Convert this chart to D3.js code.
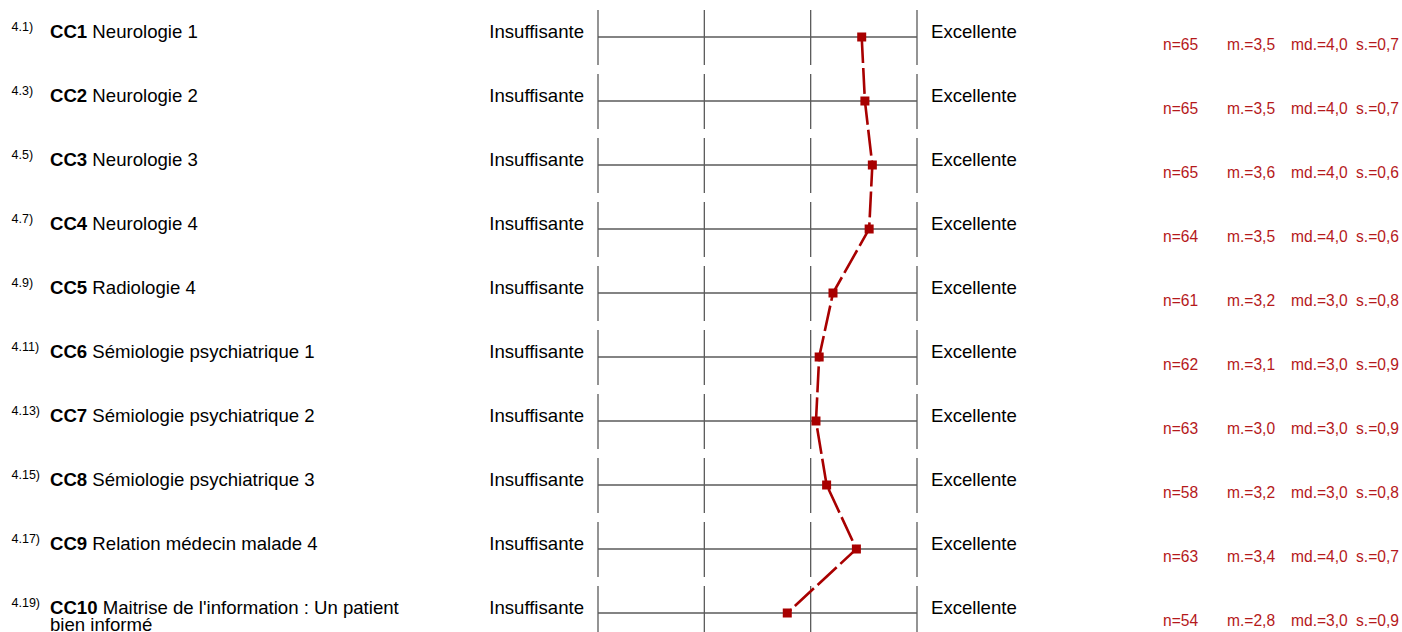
<!DOCTYPE html>
<html>
<head>
<meta charset="utf-8">
<script src="https://cdn.jsdelivr.net/npm/d3@7"></script>
<style>
  html, body { margin: 0; padding: 0; background: #fff; }
  svg { display: block; }
  text { font-family: "Liberation Sans", Arial, sans-serif; }
</style>
</head>
<body>
<svg id="chart" width="1402" height="632"></svg>
<script>
const nums = ["4.1)", "4.3)", "4.5)", "4.7)", "4.9)", "4.11)", "4.13)", "4.15)", "4.17)", "4.19)"];
const codes = ["CC1", "CC2", "CC3", "CC4", "CC5", "CC6", "CC7", "CC8", "CC9", "CC10"];
const titles = [
  ["Neurologie 1"],
  ["Neurologie 2"],
  ["Neurologie 3"],
  ["Neurologie 4"],
  ["Radiologie 4"],
  ["Sémiologie psychiatrique 1"],
  ["Sémiologie psychiatrique 2"],
  ["Sémiologie psychiatrique 3"],
  ["Relation médecin malade 4"],
  ["Maitrise de l'information : Un patient", "bien informé"]
];
const means = [3.48, 3.51, 3.58, 3.55, 3.21, 3.08, 3.05, 3.15, 3.43, 2.78];
const nValues = [65, 65, 65, 64, 61, 62, 63, 58, 63, 54];
const meanLabels = ["3,5", "3,5", "3,6", "3,5", "3,2", "3,1", "3,0", "3,2", "3,4", "2,8"];
const medianLabels = ["4,0", "4,0", "4,0", "4,0", "3,0", "3,0", "3,0", "3,0", "4,0", "3,0"];
const sdLabels = ["0,7", "0,7", "0,6", "0,6", "0,8", "0,9", "0,9", "0,8", "0,7", "0,9"];
const scaleTicks = [1, 2, 3, 4];
const leftPole = "Insuffisante";
const rightPole = "Excellente";

const svg = d3.select("#chart");
const x = d3.scaleLinear().domain([1, 4]).range([598, 917]);
const y = d3.scalePoint().domain(codes).range([37, 613]);

const rows = codes.map((c, i) => ({
  code: c, num: nums[i], title: titles[i], mean: means[i], n: nValues[i],
  ml: meanLabels[i], md: medianLabels[i], sd: sdLabels[i]
}));

const gray = "#5a5a5a";
const red = "#a80000";
const textRed = "#b5191b";
const fs = 18.6;

const g = svg.append("g");
const row = g.selectAll("g.row").data(rows).join("g").attr("class", "row")
  .attr("transform", d => `translate(0,${y(d.code)})`);

// horizontal line
row.append("line")
  .attr("x1", x(1)).attr("x2", x(4)).attr("y1", 0).attr("y2", 0)
  .attr("stroke", gray).attr("stroke-width", 1.3);

// vertical tick segments
row.selectAll("line.tick").data(scaleTicks).join("line").attr("class", "tick")
  .attr("x1", v => x(v)).attr("x2", v => x(v))
  .attr("y1", -27).attr("y2", 28)
  .attr("stroke", gray).attr("stroke-width", 1.3);

// number superscript
row.append("text")
  .attr("x", 11.5).attr("y", -6)
  .attr("font-size", 12.5).attr("fill", "#000")
  .text(d => d.num);

// label
const lbl = row.append("text")
  .attr("x", 50).attr("y", 0.5)
  .attr("font-size", fs).attr("fill", "#000");
lbl.append("tspan").attr("font-weight", "bold").text(d => d.code);
lbl.append("tspan").text(d => " " + d.title[0]);
row.filter(d => d.title.length > 1).append("text")
  .attr("x", 50).attr("y", 18)
  .attr("font-size", fs).attr("fill", "#000")
  .text(d => d.title[1]);

// poles
row.append("text")
  .attr("x", 584).attr("y", 0.5).attr("text-anchor", "end")
  .attr("font-size", fs).attr("fill", "#000").text(leftPole);
row.append("text")
  .attr("x", 931).attr("y", 0.5)
  .attr("font-size", fs).attr("fill", "#000").text(rightPole);

// stats
const st = row.append("g").attr("fill", textRed).attr("font-size", 15.6);
st.append("text").attr("x", 1163).attr("y", 12.5).text(d => "n=" + d.n);
st.append("text").attr("x", 1227).attr("y", 12.5).text(d => "m.=" + d.ml);
st.append("text").attr("x", 1291).attr("y", 12.5).text(d => "md.=" + d.md);
st.append("text").attr("x", 1356).attr("y", 12.5).text(d => "s.=" + d.sd);

// profile line
const line = d3.line().x(d => x(d.mean)).y(d => y(d.code));
g.append("path").datum(rows)
  .attr("d", line)
  .attr("fill", "none")
  .attr("stroke", red).attr("stroke-width", 2.6)
  .attr("stroke-dasharray", "26,5");

g.selectAll("rect.marker").data(rows).join("rect").attr("class", "marker")
  .attr("x", d => x(d.mean) - 4.5).attr("y", d => y(d.code) - 4.5)
  .attr("width", 9).attr("height", 9).attr("fill", red);
</script>
</body>
</html>
